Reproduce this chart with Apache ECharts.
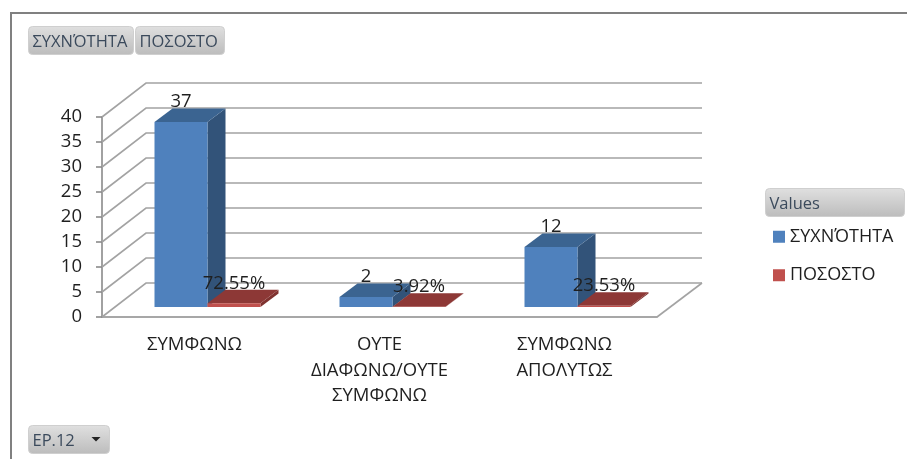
<!DOCTYPE html>
<html>
<head>
<meta charset="utf-8">
<style>html,body{margin:0;padding:0;background:#fff}#chart{width:907px;height:459px}</style>
<script src="https://cdn.jsdelivr.net/npm/echarts@6/dist/echarts.min.js"></script>
</head>
<body>
<div id="chart"></div>
<script>
const categories = ['ΣΥΜΦΩΝΩ', 'ΟΥΤΕ\nΔΙΑΦΩΝΩ/ΟΥΤΕ\nΣΥΜΦΩΝΩ', 'ΣΥΜΦΩΝΩ\nΑΠΟΛΥΤΩΣ'];
const frequency = [37, 2, 12];
const share = [0.7255, 0.0392, 0.2353];
const frequencyLabels = ['37', '2', '12'];
const shareLabels = ['72.55%', '3.92%', '23.53%'];
const yTicks = [0, 5, 10, 15, 20, 25, 30, 35, 40];

const FONT = '"Open Sans", sans-serif';
const INK = '#1f1f1f';
const WALL = '#a3a3a3';
const AXIS = '#8a8a8a';

// Oblique projection of the 3D chart box
const boxDx = 44, boxDy = 34;
const floorDx = 13, floorDy = 10;
const barDx = 18, barDy = 13.5;
const barShare = 53 / 185;

function grey() {
  return { type: 'linear', x: 0, y: 0, x2: 0, y2: 1, colorStops: [
    { offset: 0, color: '#e0e0e0' }, { offset: 1, color: '#bcbcbc' }
  ] };
}

function button(x, y, w, h, text) {
  return [
    { type: 'rect', shape: { x, y, width: w, height: h, r: 4 },
      style: { fill: grey(), stroke: '#cfcfcf', lineWidth: 1 } },
    { type: 'text', x: x + 4, y: y + h / 2 + 1.5, style: { text, font: '16.5px ' + FONT,
      fill: '#3b4a5c', verticalAlign: 'middle', align: 'left' } }
  ];
}

// Back wall: each y tick slants back from the axis and runs along the wall
function renderWall(params, api) {
  const v = api.value(0);
  const p = api.coord([0, v]);
  const g = params.coordSys;
  const x0 = g.x, xr = g.x + g.width;
  const line = { stroke: WALL, lineWidth: 1.6, fill: 'none' };
  const children = [{
    type: 'polyline', shape: { points: [[x0, p[1]], [x0 + boxDx, p[1] - boxDy], [xr + boxDx + 1, p[1] - boxDy]] },
    style: line
  }];
  if (v === 0) {
    children.push({ type: 'line', shape: { x1: xr, y1: p[1], x2: xr + boxDx + 1, y2: p[1] - boxDy }, style: line });
  }
  return { type: 'group', children };
}

// One extruded bar: front, side and top faces plus its value label
function renderBar(slot, colors, labels) {
  return function (params, api) {
    const cat = api.value(0);
    const top = api.coord([cat, api.value(1)]);
    const base = api.coord([cat, 0]);
    const w = api.size([1, 0])[0] * barShare;
    const x = top[0] + floorDx + (slot - 1) * w;
    const yb = base[1] - floorDy;
    const yt = top[1] - floorDy;
    const poly = (points, fill) => ({ type: 'polygon', shape: { points }, style: { fill } });
    return { type: 'group', children: [
      poly([[x + w, yb], [x + w + barDx, yb - barDy], [x + w + barDx, yt - barDy], [x + w, yt]], colors.side),
      poly([[x, yt], [x + barDx, yt - barDy], [x + w + barDx, yt - barDy], [x + w, yt]], colors.top),
      poly([[x, yb], [x + w, yb], [x + w, yt], [x, yt]], colors.front),
      { type: 'text', x: x + w / 2, y: yt - barDy - 6.5, z2: 50, style: {
        text: labels[params.dataIndex], font: '18.5px ' + FONT, fill: INK, align: 'center', verticalAlign: 'middle' } }
    ] };
  };
}

const blue = { front: '#4f81bd', top: '#3b6491', side: '#325379' };
const red = { front: '#c0504d', top: '#8d3836', side: '#7f322f' };

const chart = echarts.init(document.getElementById('chart'));
chart.setOption({
  animation: false,
  backgroundColor: '#fff',
  grid: { left: 102, top: 117, width: 555, height: 200 },
  xAxis: {
    type: 'category', data: categories,
    axisLine: { lineStyle: { color: AXIS, width: 1.6 } },
    axisTick: { length: 6, lineStyle: { color: AXIS, width: 1.6 } },
    axisLabel: { fontFamily: 'Open Sans', fontSize: 18.5, color: INK, lineHeight: 25.5, margin: 15, interval: 0 },
    splitLine: { show: false }
  },
  yAxis: {
    type: 'value', min: 0, max: 40, interval: 5,
    axisLine: { show: true, lineStyle: { color: AXIS, width: 1.6 } },
    axisTick: { show: true, length: 6, lineStyle: { color: AXIS, width: 1.6 } },
    axisLabel: { fontFamily: 'Open Sans', fontSize: 18.5, color: INK, margin: 20, padding: [3, 0, 0, 0] },
    splitLine: { show: false }
  },
  legend: {
    left: 773, top: 226, padding: 0, orient: 'vertical', itemWidth: 12, itemHeight: 12, itemGap: 17, align: 'left',
    icon: 'rect', data: ['ΣΥΧΝΌΤΗΤΑ', 'ΠΟΣΟΣΤΟ'],
    textStyle: { fontFamily: 'Open Sans', fontSize: 18, lineHeight: 18.5, color: INK, padding: [3, 0, 0, 0] }
  },
  graphic: [
    { type: 'polyline', shape: { points: [[11, 459], [11, 13], [907, 13]] },
      style: { stroke: '#808080', lineWidth: 2, fill: 'none' } },
    ...button(28.5, 26.5, 105, 28, 'ΣΥΧΝΌΤΗΤΑ'),
    ...button(135.5, 26.5, 89, 28, 'ΠΟΣΟΣΤΟ'),
    ...button(765.5, 188.5, 139, 28, 'Values'),
    ...button(28.5, 425.5, 81, 28, 'EP.12'),
    { type: 'polygon', shape: { points: [[91.5, 437], [100.5, 437], [96, 441.5]] }, style: { fill: '#222' } }
  ],
  series: [
    { type: 'custom', name: 'wall', silent: true, renderItem: renderWall, data: yTicks.map(v => [v]), encode: { y: 0 }, z: 1 },
    { type: 'custom', name: 'ΣΥΧΝΌΤΗΤΑ', itemStyle: { color: blue.front }, z: 2,
      renderItem: renderBar(0, blue, frequencyLabels), data: frequency.map((v, i) => [i, v]), encode: { x: 0, y: 1 } },
    { type: 'custom', name: 'ΠΟΣΟΣΤΟ', itemStyle: { color: red.front }, z: 3,
      renderItem: renderBar(1, red, shareLabels), data: share.map((v, i) => [i, v]), encode: { x: 0, y: 1 } }
  ]
});
</script>
</body>
</html>
